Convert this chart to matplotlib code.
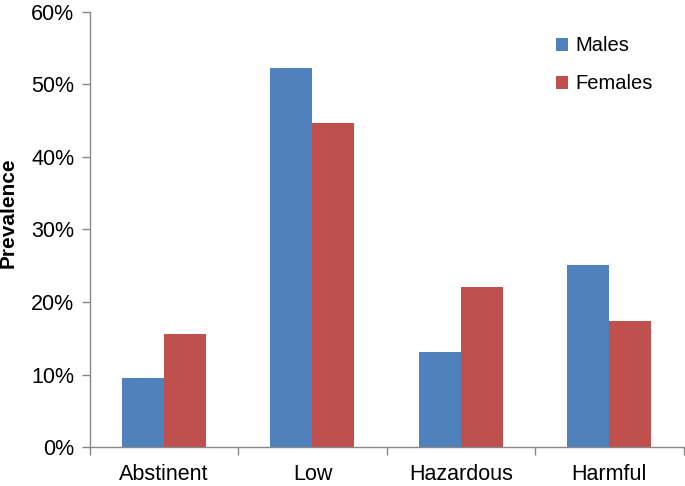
import numpy as np
import matplotlib
matplotlib.use("Agg")
import matplotlib.pyplot as plt
from matplotlib.ticker import PercentFormatter

#---------------------FONT------------------------
matplotlib.rc('font', family=['Liberation Sans', 'DejaVu Sans'], size=15.5)

#---------------------DATA------------------------
categories = ['Abstinent', 'Low', 'Hazardous', 'Harmful']
males = [9.5, 52.3, 13.1, 25.1]
females = [15.6, 44.7, 22.1, 17.4]

#------------Figure Layout--------------
fig = plt.figure(figsize=(6.85, 4.86), dpi=100)
ax = fig.add_subplot(111)
fig.subplots_adjust(left=0.131, bottom=0.080, right=0.998, top=0.976)

x = np.arange(len(categories))
w = 0.283
ax.bar(x - w/2, males, width=w, color='#4F81BD', label='Males')
ax.bar(x + w/2, females, width=w, color='#C0504D', label='Females')

ax.set_xlim(-0.5, len(categories) - 0.5)
ax.set_ylim(0, 60)
ax.set_yticks(np.arange(0, 61, 10))
ax.yaxis.set_major_formatter(PercentFormatter(decimals=0))

ax.set_xticks(x)
ax.set_xticklabels(categories, fontsize=15.5)
ax.set_xticks(np.arange(-0.5, len(categories)), minor=True)
ax.tick_params(axis='x', which='major', length=0, pad=12)
ax.tick_params(axis='x', which='minor', length=6, color='#888888', width=1)
ax.tick_params(axis='y', length=6, color='#888888', width=1, labelsize=15.5, pad=5)

for s in ['top', 'right']:
    ax.spines[s].set_visible(False)
for s in ['left', 'bottom']:
    ax.spines[s].set_color('#888888')
    ax.spines[s].set_linewidth(1)

ax.set_ylabel('Prevalence', fontsize=15, fontweight='bold')
ax.yaxis.set_label_coords(-0.121, 0.538)

ax.legend(loc='upper left', bbox_to_anchor=(0.755, 0.985), frameon=False,
          handlelength=0.6, handleheight=0.6, handletextpad=0.35,
          labelspacing=0.95, fontsize=14.5)

fig.savefig('out.png', dpi=100)
